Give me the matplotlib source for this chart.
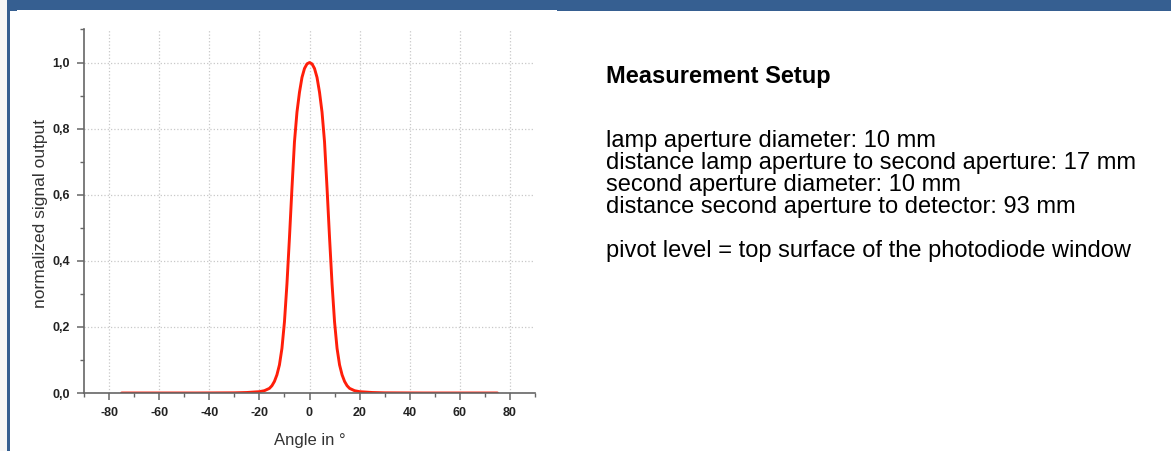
import matplotlib
matplotlib.use("Agg")
import matplotlib.pyplot as plt
from matplotlib.patches import Rectangle
from matplotlib.ticker import MultipleLocator

plt.rcParams["font.family"] = ["Liberation Sans", "DejaVu Sans"]
plt.rcParams["axes.unicode_minus"] = False

# Angular response
angle = [-75, -60, -45, -30, -25, -20, -18, -16, -15, -14, -13, -12, -11, -10,
         -9, -8, -7, -6, -5, -4, -3, -2, -1, 0, 1, 2, 3, 4, 5, 6, 7, 8, 9,
         10, 11, 12, 13, 14, 15, 16, 18, 20, 25, 30, 45, 60, 75]
signal = [0.0, 0.0, 0.0, 0.0005, 0.0015, 0.004, 0.007, 0.014, 0.022, 0.035,
          0.055, 0.085, 0.135, 0.215, 0.33, 0.47, 0.62, 0.76, 0.85, 0.91,
          0.955, 0.982, 0.996, 1.0, 0.996, 0.982, 0.955, 0.91, 0.85, 0.76,
          0.62, 0.47, 0.33, 0.215, 0.135, 0.085, 0.055, 0.035, 0.022, 0.014,
          0.007, 0.004, 0.0015, 0.0005, 0.0, 0.0, 0.0]

x_ticks = [-80, -60, -40, -20, 0, 20, 40, 60, 80]
x_labels = ["-80", "-60", "-40", "-20", "0", "20", "40", "60", "80"]
y_ticks = [0.0, 0.2, 0.4, 0.6, 0.8, 1.0]
y_labels = ["0,0", "0,2", "0,4", "0,6", "0,8", "1,0"]

setup_title = "Measurement Setup"
setup_lines = [
    "lamp aperture diameter: 10 mm",
    "distance lamp aperture to second aperture: 17 mm",
    "second aperture diameter: 10 mm",
    "distance second aperture to detector: 93 mm",
    "",
    "pivot level = top surface of the photodiode window",
]

W, H = 1171, 451
fig = plt.figure(figsize=(W / 100, H / 100), dpi=100)
fig.patch.set_facecolor("white")

blue = "#365f91"


def box(x0, y0, w, h, color):
    # pixel box, top-left origin
    fig.add_artist(Rectangle((x0 / W, 1 - (y0 + h) / H), w / W, h / H,
                             transform=fig.transFigure, color=color, lw=0))


box(0, 0, 7, H, "#f7f7f7")
box(7, 0, 3, H, blue)
box(7, 0, W - 7, 10, blue)
box(10, 10, 7, 1, blue)
box(557, 10, W - 557, 1, blue)

ax = fig.add_axes([84 / W, 1 - 393 / H, 451 / W, (393 - 29.5) / H])
ax.plot(angle, signal, color="#ff1e0a", lw=2.1, solid_capstyle="round")

ax.set_xlim(-90, 90)
ax.set_ylim(0, 1.1)
ax.set_xticks(x_ticks)
ax.set_xticklabels(x_labels)
ax.set_yticks(y_ticks)
ax.set_yticklabels(y_labels)
ax.xaxis.set_minor_locator(MultipleLocator(10))
ax.yaxis.set_minor_locator(MultipleLocator(0.1))

for s in ("top", "right"):
    ax.spines[s].set_visible(False)
for s in ("left", "bottom"):
    ax.spines[s].set_color("#666666")
    ax.spines[s].set_linewidth(1.2)

ax.tick_params(which="major", direction="out", length=5, width=1.1,
               color="#666666", labelsize=9, labelcolor="#222222", pad=5)
ax.tick_params(which="minor", direction="out", length=3, width=1.0,
               color="#666666")
for lab in ax.get_xticklabels() + ax.get_yticklabels():
    lab.set_fontweight("bold")

ax.grid(True, which="major", color="#c8c8c8", linestyle=":", linewidth=0.9)
ax.set_axisbelow(True)

ax.set_xlabel("Angle in °", fontsize=12, color="#333333", labelpad=10)
ax.set_ylabel("normalized signal output", fontsize=12.5, color="#333333")
ax.yaxis.set_label_coords(-0.08, 0.495)

fig.text(606 / W, 1 - 77 / H, setup_title, fontsize=17, fontweight="bold",
         ha="left", va="center", color="black")
for i, line in enumerate(setup_lines):
    if line:
        fig.text(606 / W, 1 - (141 + 22 * i) / H, line, fontsize=17,
                 ha="left", va="center", color="black")

fig.savefig("out.png", dpi=100)
plt.close(fig)
